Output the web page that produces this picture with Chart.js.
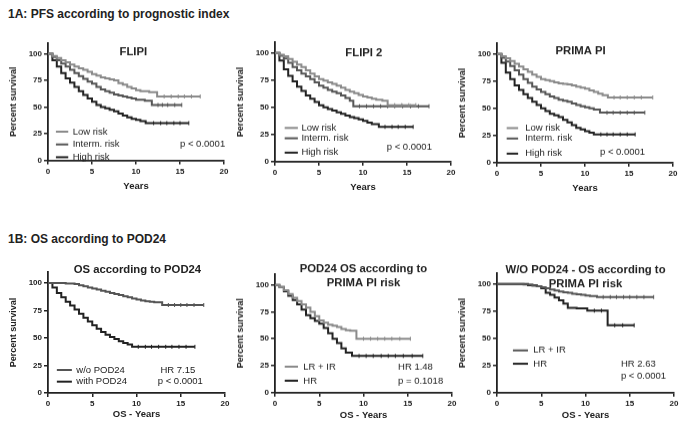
<!DOCTYPE html>
<html>
<head>
<meta charset="utf-8">
<script src="https://cdn.jsdelivr.net/npm/chart.js@4.4.1/dist/chart.umd.min.js"></script>
<style>
  body { margin: 0; background: #fff; width: 679px; height: 424px; position: relative; overflow: hidden;
         font-family: "Liberation Sans", Arial, sans-serif; color: #222; }
  .head { position: absolute; left: 8px; font-weight: bold; font-size: 12px; }
  .panel { position: absolute; }
</style>
</head>
<body>
<div class="head" style="top:7px">1A: PFS according to prognostic index</div>
<div class="head" style="top:232px">1B: OS according to POD24</div>
<div class="panel" id="p1"><canvas id="c1"></canvas></div>
<div class="panel" id="p2"><canvas id="c2"></canvas></div>
<div class="panel" id="p3"><canvas id="c3"></canvas></div>
<div class="panel" id="p4"><canvas id="c4"></canvas></div>
<div class="panel" id="p5"><canvas id="c5"></canvas></div>
<div class="panel" id="p6"><canvas id="c6"></canvas></div>

<script>
// ticks
const xTickVals = [0, 5, 10, 15, 20];
const yTickVals = [0, 25, 50, 75, 100];

// legend labels
const riskLabels = ['Low risk', 'Interm. risk', 'High risk'];
const podLabels = ['w/o POD24', 'with POD24'];
const prLabels = ['LR + IR', 'HR'];

// Kaplan-Meier curves: [years, percent surviving, censored?]
const flipiLow = [[0,100],[0.5,98],[1,96],[1.5,94],[2,92],[2.5,90],[3,88],[3.5,86.5],[4,85],[4.5,83],[5,81],[5.5,79.5],[6,78],[6.5,77],[7,76],[7.5,75],[8,72.5],[8.5,71],[9,69],[9.5,67.5],[10,66],[10.5,65],[11.5,64],[12.4,60],[13.2,60,1],[14,60,1],[14.8,60,1],[15.5,60,1],[16.3,60,1],[17.3,60,1]];
const flipiInterm = [[0,100],[0.5,97],[1,94],[1.5,91],[2,88],[2.5,85],[3,82],[3.5,79],[4,76.5],[4.5,74],[5,72],[5.5,69],[6,66.5],[6.5,65],[7,63.5],[7.5,62],[8,61],[8.5,60],[9,59],[9.5,58],[10,57],[11,56],[11.8,52],[12.5,52,1],[13,52,1],[13.6,52,1],[14.4,52,1],[15.2,52,1]];
const flipiHigh = [[0,100],[0.5,94],[1,88],[1.5,82],[2,77],[2.5,73],[3,69],[3.5,65],[4,61.5],[4.5,58],[5,55],[5.5,52],[6,50],[6.5,49],[7,47.5],[7.5,46],[8,44],[8.5,42],[9,40.5],[9.5,39],[10,38],[10.5,37],[11.1,35],[12,35,1],[12.8,35,1],[13.5,35,1],[14.3,35,1],[15,35,1],[16,35,1]];

const flipi2Low = [[0,100],[0.5,98.5],[1,97],[1.5,94.5],[2,92],[2.5,89.5],[3,87],[3.5,84],[4,81],[4.5,78.5],[5,76],[5.5,74.5],[6,73],[6.5,71.5],[7,70],[7.5,68],[8,66],[8.5,64.5],[9,63],[9.5,61.5],[10,60],[10.5,59],[11,58],[11.5,57],[12.2,56],[12.8,52],[13.6,52,1],[14.4,52,1],[15.2,52,1],[16,52,1]];
const flipi2Interm = [[0,100],[0.5,97.5],[1,95],[1.5,91],[2,87],[2.5,84],[3,81],[3.5,78.5],[4,76],[4.5,73],[5,70],[5.5,68],[6,66],[6.5,64.5],[7,63],[7.5,61],[8,58.5],[8.5,56],[8.9,51],[9.6,51,1],[10.4,51,1],[11.2,51,1],[12,51,1],[12.8,51,1],[13.6,51,1],[14.5,51,1],[15.4,51,1],[16.3,51,1],[17.5,51,1]];
const flipi2High = [[0,100],[0.5,93],[1,85],[1.5,79],[2,74],[2.5,69],[3,65],[3.5,61],[4,58],[4.5,55],[5,52],[5.5,50],[6,48.5],[6.5,47],[7,45.5],[7.5,44],[8,42.5],[8.5,41],[9,40],[9.5,39],[10,37.5],[10.5,36],[11,34.5],[11.8,32],[12.5,32,1],[13.3,32,1],[14,32,1],[14.8,32,1],[15.7,32,1]];

const primaLow = [[0,100],[0.5,98],[1,96],[1.5,93.5],[2,91],[2.5,88.5],[3,86],[3.5,83.5],[4,81],[4.5,79],[5,77],[5.5,76],[6,75],[6.5,74],[7,73],[7.5,72.5],[8,72],[8.5,71],[9,70],[9.5,69],[10,68],[10.5,66.5],[11,65],[11.5,63.5],[12,62],[12.6,60],[13.3,60,1],[14,60,1],[14.8,60,1],[15.6,60,1],[16.4,60,1],[17.7,60,1]];
const primaInterm = [[0,100],[0.5,96.5],[1,93],[1.5,89],[2,85],[2.5,81],[3,77],[3.5,73.5],[4,70],[4.5,67.5],[5,65],[5.5,63],[6,61],[6.5,59.5],[7,58],[7.5,57],[8,56],[8.5,54.5],[9,53],[9.5,52],[10,51],[10.5,50],[11,49],[11.7,46],[12.5,46,1],[13.2,46,1],[14,46,1],[14.8,46,1],[15.6,46,1],[16.8,46,1]];
const primaHigh = [[0,100],[0.5,92],[1,83],[1.5,77],[2,71],[2.5,67],[3,63],[3.5,59.5],[4,56],[4.5,53],[5,50],[5.5,47.5],[6,45],[6.5,43.5],[7,42],[7.5,39.5],[8,37],[8.5,34.5],[9,32],[9.5,30.5],[10,29],[10.5,27.5],[11,26],[11.8,26,1],[12.5,26,1],[13.2,26,1],[14,26,1],[14.8,26,1],[15.7,26,1]];

const osNoPod = [[0,100],[1,100],[2,99.5],[3,99],[3.5,98],[4,97],[4.5,96],[5,95],[5.5,94],[6,93],[6.5,92],[7,91],[7.5,90],[8,89],[8.5,88],[9,87],[9.5,86],[10,85],[10.5,84],[11,83.5],[11.5,83],[12,82.5],[12.9,80],[13.6,80,1],[14.3,80,1],[15,80,1],[15.7,80,1],[16.5,80,1],[17.6,80,1]];
const osPod = [[0,100],[0.5,96],[1,91],[1.5,87],[2,83],[2.5,79.5],[3,76],[3.5,72],[4,68.5],[4.5,65],[5,61.5],[5.5,58.5],[6,55.5],[6.5,53],[7,51],[7.5,49],[8,47],[8.5,45.5],[9,44],[9.5,42],[10.2,42,1],[11,42,1],[11.7,42,1],[12.5,42,1],[13.3,42,1],[14,42,1],[14.8,42,1],[15.6,42,1],[16.6,42,1]];

const podLrIr = [[0,100],[0.5,98],[1,95],[1.5,91.5],[2,88],[2.5,85],[3,82],[3.5,79],[4,75],[4.5,71],[5,67],[5.5,65],[6,63],[6.5,62],[7,61],[7.5,59],[8,58],[8.5,57.5],[9.2,50],[10,50,1],[10.8,50,1],[11.6,50,1],[12.4,50,1],[13.2,50,1],[14.1,50,1],[15.3,50,1]];
const podHr = [[0,100],[0.5,98],[1,94],[1.5,90],[2,86],[2.5,82],[3,77],[3.5,72],[4,69],[4.5,66.5],[5,64],[5.5,60],[6,55],[6.5,50],[7,46],[7.5,41],[8,37],[8.7,34],[9.5,34,1],[10.3,34,1],[11.1,34,1],[12,34,1],[12.8,34,1],[13.6,34,1],[14.5,34,1],[15.5,34,1],[16.7,34,1]];

const noPodLrIr = [[0,100],[2,100],[3,99.5],[4,98.5],[4.5,98],[5,97],[5.5,96],[6,95],[6.5,94],[7,93],[7.5,92.5],[8,92],[8.5,91],[9,90.5],[9.5,90],[10,89.5],[10.5,89],[11.3,88],[12,88,1],[12.8,88,1],[13.5,88,1],[14.3,88,1],[15,88,1],[15.8,88,1],[16.6,88,1],[17.7,88,1]];
const noPodHr = [[0,100],[2,100],[3.5,99],[4.5,98],[5,96],[5.5,92],[6,90],[6.5,87.5],[7,85],[7.5,82],[8,78],[9,77.5],[10.2,75.5],[11,75.5,1],[11.8,75.5,1],[12.5,62],[13.3,62,1],[14.2,62,1],[15.5,62,1]];

const LIGHT = '#8a8a8a', MID = '#555', DARK = '#222';

Chart.defaults.font.family = '"Liberation Sans", Arial, sans-serif';
Chart.defaults.color = '#222';

// titles, legend and statistics drawn inside each panel
const kmNotes = {
  id: 'kmNotes',
  afterDraw(chart, args, o) {
    const { ctx, scales: { x, y } } = chart;
    ctx.save();
    ctx.fillStyle = '#222';
    ctx.textBaseline = 'middle';
    ctx.font = 'bold 11.3px "Liberation Sans"';
    ctx.textAlign = 'center';
    o.title.forEach((line, i) =>
      ctx.fillText(line, x.getPixelForValue(o.titleAt[0]), y.getPixelForValue(o.titleAt[1]) + i * 14));
    ctx.font = '9.5px "Liberation Sans"';
    ctx.textAlign = 'left';
    chart.data.datasets.forEach((ds, i) => {
      const yy = y.getPixelForValue(o.legendY[i]);
      ctx.strokeStyle = ds.borderColor;
      ctx.lineWidth = 2;
      ctx.beginPath();
      ctx.moveTo(x.getPixelForValue(o.legendX[0]), yy);
      ctx.lineTo(x.getPixelForValue(o.legendX[1]), yy);
      ctx.stroke();
      ctx.fillText(ds.label, x.getPixelForValue(o.legendX[2]), yy);
    });
    o.texts.forEach(t => ctx.fillText(t[0], x.getPixelForValue(t[1]), y.getPixelForValue(t[2])));
    ctx.restore();
  }
};

const YMAX = 110, PAD_TOP = 26, Y_W = 44, PAD_R = 10;

function kmPanel(n, g, curves, labels, colors, notes, xTitle) {
  const chartTop = g.y0 - (g.y0 - g.y100) * YMAX / 100;
  const xH = g.xt - g.y0 + 10;
  const box = document.getElementById('p' + n);
  box.style.left = (g.ax - Y_W) + 'px';
  box.style.top = (chartTop - PAD_TOP) + 'px';
  box.style.width = (g.rx - g.ax + Y_W + PAD_R) + 'px';
  box.style.height = (PAD_TOP + g.y0 - chartTop + xH) + 'px';

  new Chart(document.getElementById('c' + n), {
    type: 'line',
    data: {
      datasets: curves.map((c, i) => ({
        label: labels[i],
        data: c.map(p => ({ x: p[0], y: p[1], cens: p[2] || 0 })),
        borderColor: colors[i],
        borderWidth: 2,
        stepped: true,
        pointStyle: 'line',
        rotation: 90,
        pointRadius: ctx => (ctx.raw && ctx.raw.cens ? 2 : 0),
        pointBorderColor: colors[i],
        pointBorderWidth: 1
      }))
    },
    options: {
      responsive: true,
      maintainAspectRatio: false,
      animation: false,
      layout: { padding: { top: PAD_TOP, right: PAD_R, left: 0, bottom: 0 } },
      plugins: { legend: { display: false }, tooltip: { enabled: false }, kmNotes: notes },
      scales: {
        x: {
          type: 'linear', min: 0, max: 20,
          afterBuildTicks: s => { s.ticks = xTickVals.map(v => ({ value: v })); },
          afterFit: s => { s.height = xH; },
          ticks: { font: { size: 8, weight: 'bold' }, padding: 2, maxRotation: 0 },
          grid: { drawOnChartArea: false, drawTicks: true, tickLength: 4, color: '#222', lineWidth: 1.5 },
          border: { display: true, color: '#222', width: 1.8 },
          title: { display: true, text: xTitle, font: { size: 9.5, weight: 'bold' }, padding: { top: 2, bottom: 4 } }
        },
        y: {
          min: 0, max: YMAX,
          afterBuildTicks: s => { s.ticks = yTickVals.map(v => ({ value: v })); },
          afterFit: s => { s.width = Y_W; },
          ticks: { font: { size: 8, weight: 'bold' }, padding: 2 },
          grid: { drawOnChartArea: false, drawTicks: true, tickLength: 4, color: '#222', lineWidth: 1.5 },
          border: { display: true, color: '#222', width: 1.8 },
          title: { display: true, text: 'Percent survival', font: { size: 9, weight: 'bold' }, padding: { top: 4, bottom: 1 } }
        }
      }
    },
    plugins: [kmNotes]
  });
}

kmPanel(1, { ax: 48, rx: 224, y0: 160, y100: 54, xt: 185 },
  [flipiLow, flipiInterm, flipiHigh], riskLabels, [LIGHT, MID, DARK],
  { title: ['FLIPI'], titleAt: [9.7, 102], legendX: [0.9, 2.3, 2.8], legendY: [27, 15, 3],
    texts: [['p < 0.0001', 15, 15]] }, 'Years');

kmPanel(2, { ax: 275, rx: 451, y0: 161, y100: 53, xt: 186 },
  [flipi2Low, flipi2Interm, flipi2High], riskLabels, [LIGHT, MID, DARK],
  { title: ['FLIPI 2'], titleAt: [10.1, 100], legendX: [1.1, 2.6, 3.0], legendY: [31, 21.5, 8.3],
    texts: [['p < 0.0001', 12.7, 13.8]] }, 'Years');

kmPanel(3, { ax: 497, rx: 673, y0: 162, y100: 54, xt: 187 },
  [primaLow, primaInterm, primaHigh], riskLabels, [LIGHT, MID, DARK],
  { title: ['PRIMA PI'], titleAt: [9.5, 103], legendX: [1.1, 2.4, 3.2], legendY: [31.8, 22.2, 8.3],
    texts: [['p < 0.0001', 11.7, 9.5]] }, 'Years');

kmPanel(4, { ax: 48, rx: 225, y0: 393, y100: 283, xt: 414 },
  [osNoPod, osPod], podLabels, [MID, DARK],
  { title: ['OS according to POD24'], titleAt: [10.1, 112], legendX: [1.0, 2.7, 3.2], legendY: [20.9, 10.3],
    texts: [['HR 7.15', 12.7, 20.9], ['p < 0.0001', 12.4, 10.3]] }, 'OS - Years');

kmPanel(5, { ax: 275, rx: 452, y0: 392, y100: 285, xt: 414 },
  [podLrIr, podHr], prLabels, [LIGHT, DARK],
  { title: ['POD24 OS according to', 'PRIMA PI risk'], titleAt: [10, 114.7], legendX: [1.1, 2.6, 3.2], legendY: [24, 11],
    texts: [['HR 1.48', 13.9, 24], ['p = 0.1018', 13.9, 11]] }, 'OS - Years');

kmPanel(6, { ax: 497, rx: 674, y0: 392, y100: 284, xt: 414 },
  [noPodLrIr, noPodHr], prLabels, [MID, DARK],
  { title: ['W/O POD24 - OS according to', 'PRIMA PI risk'], titleAt: [10, 113], legendX: [1.8, 3.5, 4.1], legendY: [38.9, 26.6],
    texts: [['HR 2.63', 14, 26.6], ['p < 0.0001', 14, 14.8]] }, 'OS - Years');
</script>
</body>
</html>
